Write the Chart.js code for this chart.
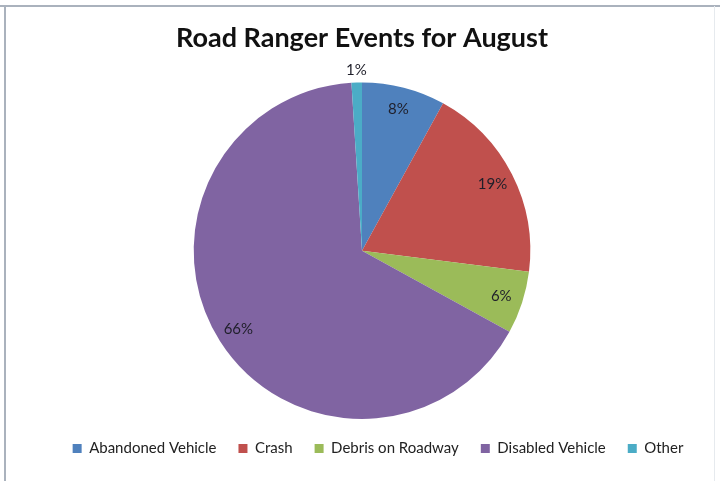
<!DOCTYPE html>
<html>
<head>
<meta charset="utf-8">
<title>Road Ranger Events for August</title>
<script src="https://cdn.jsdelivr.net/npm/chart.js@4.4.1/dist/chart.umd.min.js"></script>
<style>
  html, body { margin: 0; padding: 0; background: #fff; }
  #wrap { position: relative; width: 720px; height: 481px; }
</style>
</head>
<body>
<div id="wrap">
  <canvas id="myChart" width="720" height="481"></canvas>
</div>
<script>
// data for the chart
var categories = ['Abandoned Vehicle', 'Crash', 'Debris on Roadway', 'Disabled Vehicle', 'Other'];
var percents = [8, 19, 6, 66, 1];
var colors = ['#4F81BD', '#C0504D', '#9BBB59', '#8064A2', '#4BACC6'];

// frame + white background
var framePlugin = {
  id: 'frame',
  beforeDraw: function(chart){
    var c = chart.ctx;
    c.save();
    c.fillStyle = '#fff';
    c.fillRect(0, 0, chart.width, chart.height);
    c.strokeStyle = '#aab2bd';
    c.lineWidth = 2;
    c.beginPath();
    c.moveTo(0, 6);
    c.lineTo(chart.width, 6);
    c.moveTo(5, 6);
    c.lineTo(5, chart.height);
    c.stroke();
    c.strokeStyle = '#e6eaee';
    c.lineWidth = 1;
    c.beginPath();
    c.moveTo(714.5, 6);
    c.lineTo(714.5, chart.height);
    c.stroke();
    c.restore();
  }
};

// percent labels on the slices
var labelPlugin = {
  id: 'pctLabels',
  afterDatasetsDraw: function(chart){
    var c = chart.ctx;
    var meta = chart.getDatasetMeta(0);
    c.save();
    c.font = '15px Lato, "Open Sans", sans-serif';
    c.fillStyle = '#1f1f2a';
    c.textAlign = 'center';
    c.textBaseline = 'middle';
    meta.data.forEach(function(arc, i){
      var p = arc.getProps(['x', 'y', 'startAngle', 'endAngle', 'outerRadius'], true);
      var mid = (p.startAngle + p.endAngle) / 2;
      var r = percents[i] < 3 ? p.outerRadius + 12 : p.outerRadius * 0.87;
      c.fillText(percents[i] + '%', p.x + Math.cos(mid) * r, p.y + Math.sin(mid) * r);
    });
    c.restore();
  }
};

// nudge the legend a bit to the right like in the original
var legendShift = {
  id: 'legendShift',
  afterLayout: function(chart){
    chart.legend.left += 16;
    chart.legend.right += 16;
  }
};

var ctx = document.getElementById('myChart');
var chart = new Chart(ctx, {
  type: 'pie',
  data: {
    labels: categories,
    datasets: [{
      data: percents,
      backgroundColor: colors,
      borderWidth: 0
    }]
  },
  options: {
    responsive: false,
    animation: false,
    devicePixelRatio: 1,
    layout: { padding: { left: 4, right: 0, top: 0, bottom: 15 } },
    plugins: {
      title: {
        display: true,
        text: 'Road Ranger Events for August',
        color: '#111',
        font: { family: 'Lato, "Open Sans", sans-serif', size: 27, weight: 'bold' },
        padding: { top: 22, bottom: 28 }
      },
      legend: {
        position: 'bottom',
        labels: {
          color: '#222',
          boxWidth: 9,
          boxHeight: 9,
          padding: 22,
          font: { family: 'Lato, "Open Sans", sans-serif', size: 15 }
        }
      },
      tooltip: { enabled: false }
    }
  },
  plugins: [framePlugin, labelPlugin, legendShift]
});
</script>
</body>
</html>
